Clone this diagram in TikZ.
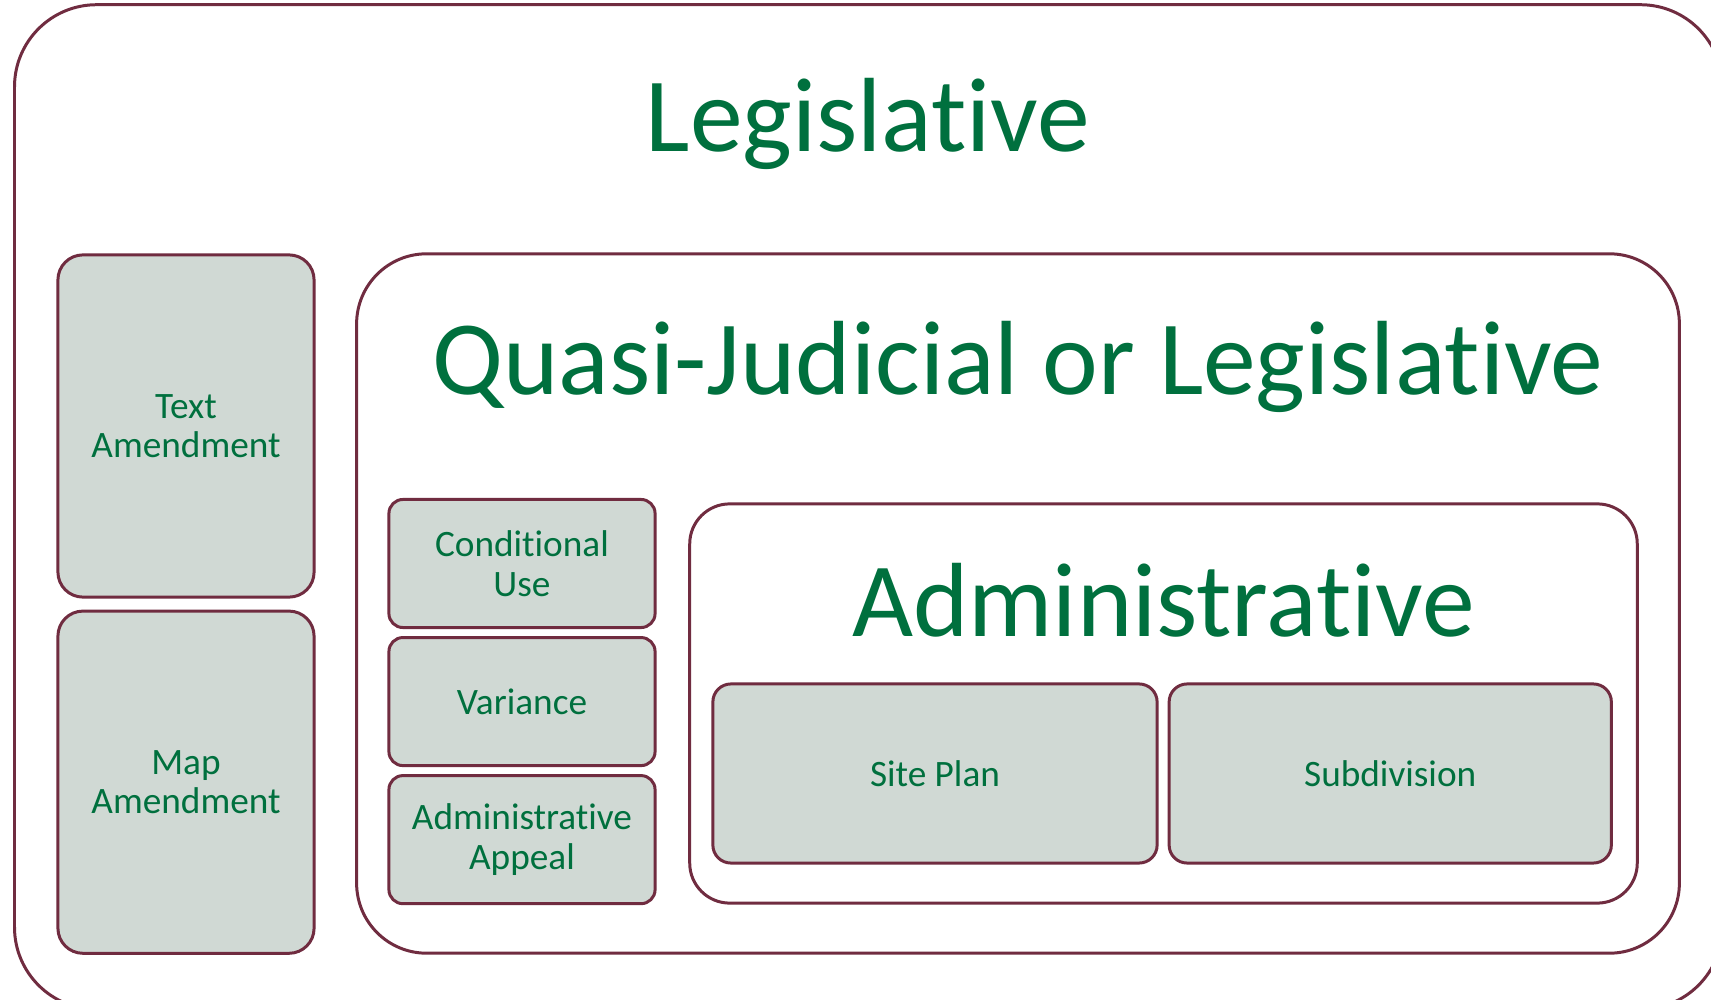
\documentclass[tikz,border=0pt]{standalone}
\usepackage{fontspec}
\setmainfont{Carlito}[Ligatures=NoCommon]
\usepackage{xcolor}
\usepackage{tikz}
\usetikzlibrary{positioning}

\definecolor{boxline}{RGB}{112,44,64}
\definecolor{boxfill}{RGB}{208,217,212}
\definecolor{textgreen}{RGB}{0,112,62}

\begin{document}
\begin{tikzpicture}[
      x=0.01cm, y=-0.01cm,
      frame/.style={draw=boxline, line width=0.85pt, fill=white, inner sep=0pt},
      item/.style={draw=boxline, line width=0.85pt, fill=boxfill, inner sep=0pt, align=center,
        text=textgreen, font=\fontsize{10.6}{11.2}\selectfont},
      title/.style={anchor=base, text=textgreen, inner sep=0pt, font=\fontsize{30}{36}\selectfont},
    ]
    \clip (0,0) rectangle (1711,1000);
    % nested frames
    \node[frame, rounded corners=0.82cm, minimum width=17.07cm, minimum height=10.04cm] (legis) at (868.5,507) {};
    \node[frame, rounded corners=0.7cm, minimum width=13.22cm, minimum height=6.99cm] (quasi) at (1018,603.5) {};
    \node[frame, rounded corners=0.4cm, minimum width=9.47cm, minimum height=3.99cm] (admin) at (1163.5,703.5) {};
    \node[title] (legistitle) at (868,151) {Legislative};
    \node[title] (quasititle) at (1018,394) {Quasi-Judicial or Legislative};
    \node[title] (admintitle) at (1163.5,636) {Administrative};
    % legislative items
    \node[item, rounded corners=0.25cm, minimum width=2.56cm, minimum height=3.42cm] (textam) at (186,426) {Text\\Amendment};
    \node[item, rounded corners=0.25cm, minimum width=2.56cm, minimum height=3.42cm, below=0.11cm of textam] (mapam) {Map\\Amendment};
    % quasi-judicial items
    \node[item, rounded corners=0.14cm, minimum width=2.66cm, minimum height=1.28cm] (conduse) at (522,563.5) {Conditional\\Use};
    \node[item, rounded corners=0.14cm, minimum width=2.66cm, minimum height=1.28cm, below=0.07cm of conduse] (variance) {Variance};
    \node[item, rounded corners=0.14cm, minimum width=2.66cm, minimum height=1.28cm, below=0.07cm of variance] (appeal) {Administrative\\Appeal};
    % administrative items
    \node[item, rounded corners=0.18cm, minimum width=4.44cm, minimum height=1.79cm] (siteplan) at (935,773.5) {Site Plan};
    \node[item, rounded corners=0.18cm, minimum width=4.42cm, minimum height=1.79cm, right=0.09cm of siteplan] (subdiv) {Subdivision};
  \end{tikzpicture}
\end{document}
